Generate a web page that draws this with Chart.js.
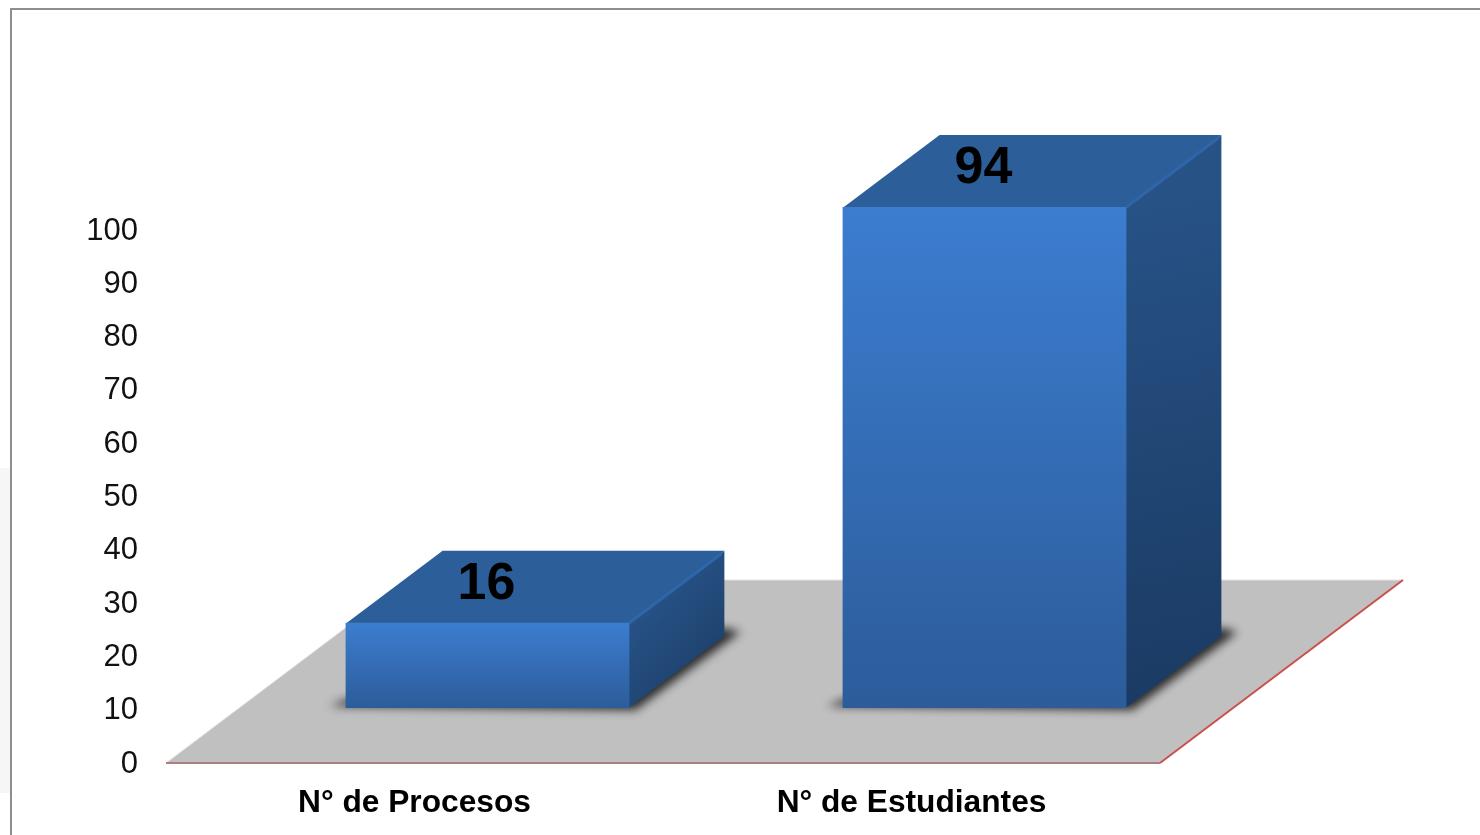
<!DOCTYPE html>
<html>
<head>
<meta charset="utf-8">
<title>Procesos y Estudiantes</title>
<script src="https://cdn.jsdelivr.net/npm/chart.js@4"></script>
<style>
  html, body { margin: 0; padding: 0; background: #fff; overflow: hidden; }
  #wrap { position: relative; width: 1480px; height: 835px; }
  #frame { position: absolute; left: 10px; top: 8px; right: 0; bottom: 0; border-left: 2px solid #8e8e8e; border-top: 2px solid #8e8e8e; }
  #fade { position: absolute; left: 0; top: 468px; width: 10px; height: 325px; background: #f6f6f6; }
  canvas { position: absolute; left: 0; top: 0; }
</style>
</head>
<body>
<div id="wrap">
  <div id="fade"></div>
  <div id="frame"></div>
  <canvas id="barChart" width="1480" height="835"></canvas>
</div>
<script>
// ─── Data ────────────────────────────────────────────
const categories = ["N° de Procesos", "N° de Estudiantes"];
const values = [16, 94];
const yMin = 0;
const yMax = 100;
const yStep = 10;

// ─── 3D look ─────────────────────────────────────────
const DEPTH_X = 95;
const DEPTH_Y = -72;
const SHIFT_X = 73;   // bars stand further back on the floor than the axis
const SHIFT_Y = -54;
const OFFSCREEN = 3000;

function frontColor(ctx) {
  const chart = ctx.chart;
  const y = chart.scales && chart.scales.y;
  if (!y || !ctx.parsed) return "#3a78c8";
  const top = y.getPixelForValue(ctx.parsed.y);
  const base = y.getPixelForValue(0);
  if (!Number.isFinite(top) || !Number.isFinite(base)) return "#3a78c8";
  const g = chart.ctx.createLinearGradient(0, top, 0, base);
  g.addColorStop(0, "#3c7dd0");
  g.addColorStop(1, "#2c5c9a");
  return g;
}

const floorAndBox = {
  id: "floorAndBox",
  beforeDatasetsDraw(chart) {
    const c = chart.ctx;
    const area = chart.chartArea;
    const y = chart.scales.y;
    const floorY = area.bottom + 1;
    const backY = 580;
    const backDx = 243;

    // floor
    c.save();
    c.beginPath();
    c.moveTo(area.left, floorY);
    c.lineTo(area.right, floorY);
    c.lineTo(area.right + backDx, backY);
    c.lineTo(area.left + backDx, backY);
    c.closePath();
    c.fillStyle = "#c0c0c0";
    c.fill();
    // floor edges
    c.lineWidth = 1;
    c.strokeStyle = "#f0dede";
    c.beginPath();
    c.moveTo(area.left, floorY);
    c.lineTo(area.left + backDx, backY);
    c.lineTo(area.right + backDx, backY);
    c.stroke();
    c.lineWidth = 2;
    c.strokeStyle = "#a98080";
    c.beginPath();
    c.moveTo(area.left, floorY);
    c.lineTo(area.right, floorY);
    c.stroke();
    c.strokeStyle = "#c9504d";
    c.beginPath();
    c.moveTo(area.right, floorY);
    c.lineTo(area.right + backDx, backY);
    c.stroke();
    c.restore();

    c.save();
    c.translate(SHIFT_X, SHIFT_Y);
    chart.getDatasetMeta(0).data.forEach(bar => {
      const left = bar.x - bar.width / 2;
      const right = bar.x + bar.width / 2;
      const base = y.getPixelForValue(0);
      const top = bar.y;

      // soft shadow on the floor: only the blurred shadow lands on screen
      c.save();
      c.shadowColor = "rgba(35,35,35,.95)";
      c.shadowBlur = 10;
      c.shadowOffsetX = OFFSCREEN;
      c.fillStyle = "#000";
      c.beginPath();
      c.moveTo(left - 16 - OFFSCREEN, base - 2);
      c.lineTo(left - OFFSCREEN, base - 8);
      c.lineTo(right + DEPTH_X - OFFSCREEN, base + DEPTH_Y - 8);
      c.lineTo(right + DEPTH_X + 16 - OFFSCREEN, base + DEPTH_Y - 4);
      c.lineTo(right + 6 - OFFSCREEN, base + 2);
      c.closePath();
      c.fill();
      c.restore();

      // side face
      const side = c.createLinearGradient(right, top, right + DEPTH_X, base);
      side.addColorStop(0, "#275286");
      side.addColorStop(1, "#1a3a62");
      c.fillStyle = side;
      c.beginPath();
      c.moveTo(right - 1, top);
      c.lineTo(right + DEPTH_X, top + DEPTH_Y);
      c.lineTo(right + DEPTH_X, base + DEPTH_Y);
      c.lineTo(right - 1, base);
      c.closePath();
      c.fill();

      // top face
      c.fillStyle = "#2c5e9a";
      c.beginPath();
      c.moveTo(left, top + 1);
      c.lineTo(left + DEPTH_X + 2, top + DEPTH_Y);
      c.lineTo(right + DEPTH_X, top + DEPTH_Y);
      c.lineTo(right, top + 1);
      c.closePath();
      c.fill();

      // lighter ridge between top and side
      c.strokeStyle = "#2f66ab";
      c.lineWidth = 3;
      c.beginPath();
      c.moveTo(right, top);
      c.lineTo(right + DEPTH_X - 3, top + DEPTH_Y + 3);
      c.stroke();
    });
    c.restore();

    // front faces are drawn by the bar controller, shifted the same way
    c.save();
    c.translate(SHIFT_X, SHIFT_Y);
  },
  afterDatasetsDraw(chart) {
    const c = chart.ctx;
    c.restore();
    // value labels on the top face
    c.save();
    c.font = "bold 52px 'Liberation Sans', Arial, sans-serif";
    c.fillStyle = "#000";
    c.textAlign = "center";
    c.textBaseline = "middle";
    chart.getDatasetMeta(0).data.forEach((bar, i) => {
      c.fillText(values[i], bar.x + SHIFT_X - 1, bar.y + SHIFT_Y + DEPTH_Y / 2 - 2);
    });
    c.restore();
  }
};

// ─── Chart ───────────────────────────────────────────
new Chart(document.getElementById("barChart").getContext("2d"), {
  type: "bar",
  data: {
    labels: categories,
    datasets: [{
      data: values,
      backgroundColor: frontColor,
      borderWidth: 0,
      barPercentage: 0.571,
      categoryPercentage: 1,
    }],
  },
  options: {
    responsive: false,
    animation: false,
    layout: { padding: { top: 229, right: 320, left: 0, bottom: 0 } },
    plugins: { legend: { display: false }, tooltip: { enabled: false } },
    scales: {
      x: {
        grid: { display: false, drawTicks: false },
        border: { display: false },
        ticks: {
          padding: 22,
          color: "#000",
          maxRotation: 0,
          font: { family: "'Liberation Sans', Arial, sans-serif", size: 31.7, weight: "bold" },
        },
        afterFit(scale) { scale.height = 73; },
      },
      y: {
        min: yMin,
        max: yMax,
        grid: { display: false, drawTicks: false },
        border: { display: false },
        ticks: {
          stepSize: yStep,
          padding: 28,
          labelOffset: 2,
          color: "#111",
          font: { family: "'Liberation Sans', Arial, sans-serif", size: 31 },
        },
        afterFit(scale) { scale.width = 166; },
      },
    },
  },
  plugins: [floorAndBox],
});
</script>
</body>
</html>
